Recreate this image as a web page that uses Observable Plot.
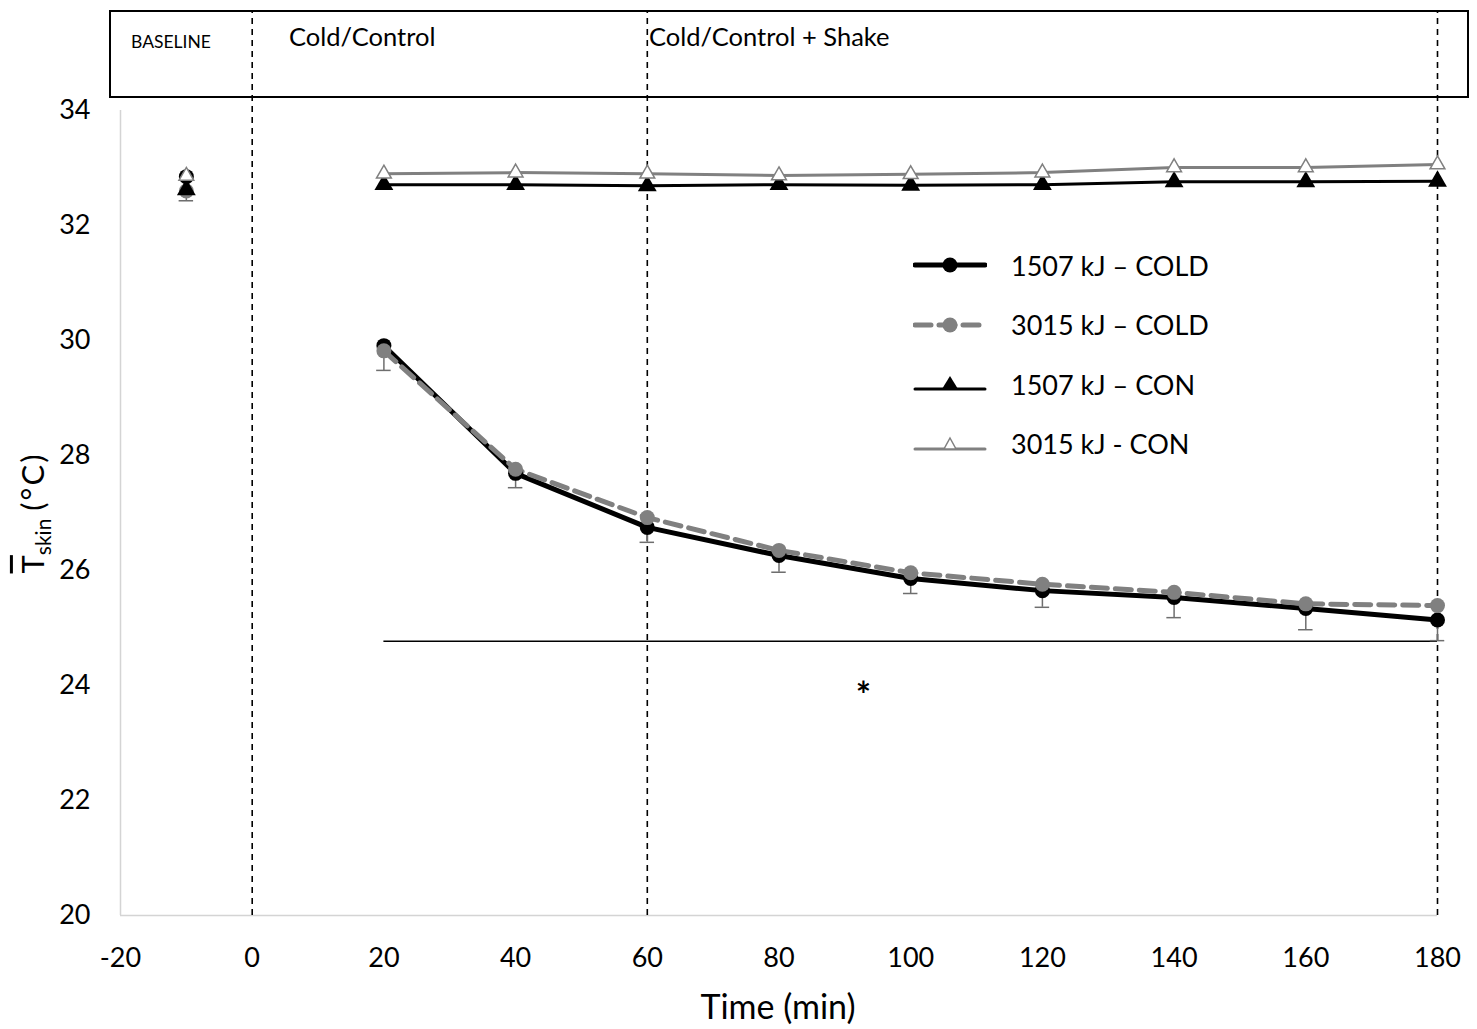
<!DOCTYPE html>
<html>
<head>
<meta charset="utf-8">
<script src="https://cdn.jsdelivr.net/npm/d3@7"></script>
<script src="https://cdn.jsdelivr.net/npm/@observablehq/plot@0.6"></script>
<style>
  html, body { margin: 0; padding: 0; background: #fff; }
  body { font-family: Lato, "Open Sans", sans-serif; color: #000; }
  #wrap { position: relative; width: 1477px; height: 1029px; overflow: hidden; }
  #chart { position: absolute; left: 0; top: 0; }
  .header { position: absolute; left: 109px; top: 10px; width: 1356px; height: 84px; border: 2px solid #000; box-sizing: content-box; }
  .hl { position: absolute; white-space: nowrap; }
  .legend { position: absolute; left: 913px; top: 250px; }
  .lrow { display: flex; align-items: center; height: 30px; margin-bottom: 29.5px; font-size: 27px; }
  .lrow svg { margin-right: 24px; }
  .ylabel { position: absolute; left: 35px; top: 513px; transform: translate(-50%, -50%) rotate(-90deg); font-size: 31px; white-space: nowrap; line-height: 1; }
  .xlabel { position: absolute; left: 778px; top: 1005px; transform: translate(-50%, -50%); font-size: 34px; white-space: nowrap; }
</style>
</head>
<body>
<div id="wrap">
  <div id="chart"></div>
  <div class="header"></div>
  <div class="hl" style="left:131px; top:31px; font-size:17.5px;">BASELINE</div>
  <div class="hl" style="left:289px; top:21px; font-size:25.5px;">Cold/Control</div>
  <div class="hl" style="left:649px; top:21px; font-size:25.5px;">Cold/Control + Shake</div>
  <div class="ylabel"><span style="text-decoration: overline;">T</span><sub style="font-size:21px;">skin</sub> <span style="letter-spacing:2px;">(°C)</span></div>
  <div class="xlabel">Time (min)</div>
  <div class="legend" id="legend"></div>
</div>
<script>
// ---- data ----
const times = [20, 40, 60, 80, 100, 120, 140, 160, 180];
const cold1507 = [29.91, 27.69, 26.75, 26.26, 25.86, 25.65, 25.53, 25.34, 25.14];
const cold3015 = [29.82, 27.76, 26.92, 26.35, 25.96, 25.76, 25.62, 25.42, 25.39];
const con1507  = [32.71, 32.71, 32.69, 32.71, 32.70, 32.71, 32.76, 32.76, 32.77];
const con3015  = [32.90, 32.92, 32.90, 32.87, 32.89, 32.92, 33.01, 33.01, 33.06];
const coldErrLow = [29.48, 27.44, 26.49, 25.97, 25.60, 25.36, 25.18, 24.97, 24.78];

const baselineTime = -10;
const baseline = { cold1507: 32.85, cold3015: 32.60, con1507: 32.62, con3015: 32.86, errLow: 32.43 };

const phaseLines = [0, 60, 180];
const phaseTop = 35.74;
const sigLine = { x1: 20, x2: 180, y: 24.77 };
const star = { x: 92.8, y: 23.95, text: "*" };

const xTicks = [-20, 0, 20, 40, 60, 80, 100, 120, 140, 160, 180];
const yTicks = [20, 22, 24, 26, 28, 30, 32, 34];

const seriesNames = ["1507 kJ \u2013 COLD", "3015 kJ \u2013 COLD", "1507 kJ \u2013 CON", "3015 kJ - CON"];

// ---- build tables ----
const allT = [baselineTime, ...times];
const rows = allT.map((t, i) => i === 0
  ? { t, c1: baseline.cold1507, c2: baseline.cold3015, n1: baseline.con1507, n2: baseline.con3015, lo: baseline.errLow }
  : { t, c1: cold1507[i-1], c2: cold3015[i-1], n1: con1507[i-1], n2: con3015[i-1], lo: coldErrLow[i-1] });
const lineRows = rows.slice(1);

const gray = "#808080";
const errGray = "#6e6e6e";

const chart = Plot.plot({
  width: 1477,
  height: 1029,
  marginLeft: 120,
  marginRight: 40,
  marginTop: 110,
  marginBottom: 114,
  style: { fontFamily: "Lato, 'Open Sans', sans-serif", fontSize: "27px", color: "#000", background: "#fff" },
  x: { domain: [-20, 180] },
  y: { domain: [20, 34] },
  marks: [
    Plot.ruleX([-20], { stroke: "#d4d4d4", strokeWidth: 1.5 }),
    Plot.ruleY([20], { stroke: "#d4d4d4", strokeWidth: 1.5 }),
    Plot.ruleX(phaseLines, { x: d => d, y1: 20, y2: phaseTop, stroke: "#000", strokeWidth: 1.6, strokeDasharray: "6,5" }),
    Plot.ruleY([sigLine], { y: "y", x1: "x1", x2: "x2", stroke: "#000", strokeWidth: 1.5 }),
    Plot.text([star], { x: "x", y: "y", text: "text", fontSize: 36, fontWeight: "bold", dy: 8 }),
    // error bars (cold)
    Plot.ruleX(rows, { x: "t", y1: "c2", y2: "lo", stroke: errGray, strokeWidth: 1.5 }),
    Plot.ruleY(rows, { y: "lo", x1: d => d.t - 1.1, x2: d => d.t + 1.1, stroke: errGray, strokeWidth: 1.5 }),
    // cold lines
    Plot.line(lineRows, { x: "t", y: "c1", stroke: "#000", strokeWidth: 5 }),
    Plot.line(lineRows, { x: "t", y: "c2", stroke: gray, strokeWidth: 5, strokeDasharray: "16,8" }),
    Plot.dot(rows, { x: "t", y: "c1", r: 7.5, fill: "#000" }),
    Plot.dot(rows, { x: "t", y: "c2", r: 7.5, fill: gray }),
    // control lines
    Plot.line(lineRows, { x: "t", y: "n1", stroke: "#000", strokeWidth: 3 }),
    Plot.line(lineRows, { x: "t", y: "n2", stroke: gray, strokeWidth: 3 }),
    Plot.dot(rows, { x: "t", y: "n1", symbol: "triangle", r: 7, fill: "#000" }),
    Plot.dot(rows, { x: "t", y: "n2", symbol: "triangle", r: 5.5, fill: "#fff", stroke: gray, strokeWidth: 1.5 }),
    Plot.axisX({ ticks: xTicks, tickSize: 0, tickPadding: 32, tickFormat: d => String(d), label: null, fontSize: 27 }),
    Plot.axisY({ ticks: yTicks, tickSize: 0, tickPadding: 30, tickFormat: d => String(d), label: null, fontSize: 27 })
  ]
});
document.getElementById("chart").appendChild(chart);

// ---- legend ----
const legendSpecs = [
  { color: "#000", width: 5, dash: null, shape: "circle", fill: "#000" },
  { color: gray, width: 5, dash: "16,8", shape: "circle", fill: gray },
  { color: "#000", width: 3, dash: null, shape: "tri", fill: "#000" },
  { color: gray, width: 3, dash: null, shape: "tri", fill: "#fff" }
];
const leg = document.getElementById("legend");
seriesNames.forEach((name, i) => {
  const s = legendSpecs[i];
  const row = document.createElement("div");
  row.className = "lrow";
  let marker;
  if (s.shape === "circle") {
    marker = `<circle cx="37" cy="15" r="7.5" fill="${s.fill}"/>`;
  } else if (s.fill === "#000") {
    marker = `<path d="M37,7 L45,20 L29,20 Z" fill="#000"/>`;
  } else {
    marker = `<path d="M37,9 L43,20 L31,20 Z" fill="#fff" stroke="${s.color}" stroke-width="1.5"/>`;
  }
  const dashAttr = s.dash ? `stroke-dasharray="${s.dash}"` : "";
  const lineY = s.shape === "tri" ? 20 : 15;
  row.innerHTML = `<svg width="74" height="30"><line x1="2" x2="72" y1="${lineY}" y2="${lineY}" stroke="${s.color}" stroke-width="${s.width}" stroke-linecap="round" ${dashAttr}/>${marker}</svg><span>${name}</span>`;
  leg.appendChild(row);
});
</script>
</body>
</html>
